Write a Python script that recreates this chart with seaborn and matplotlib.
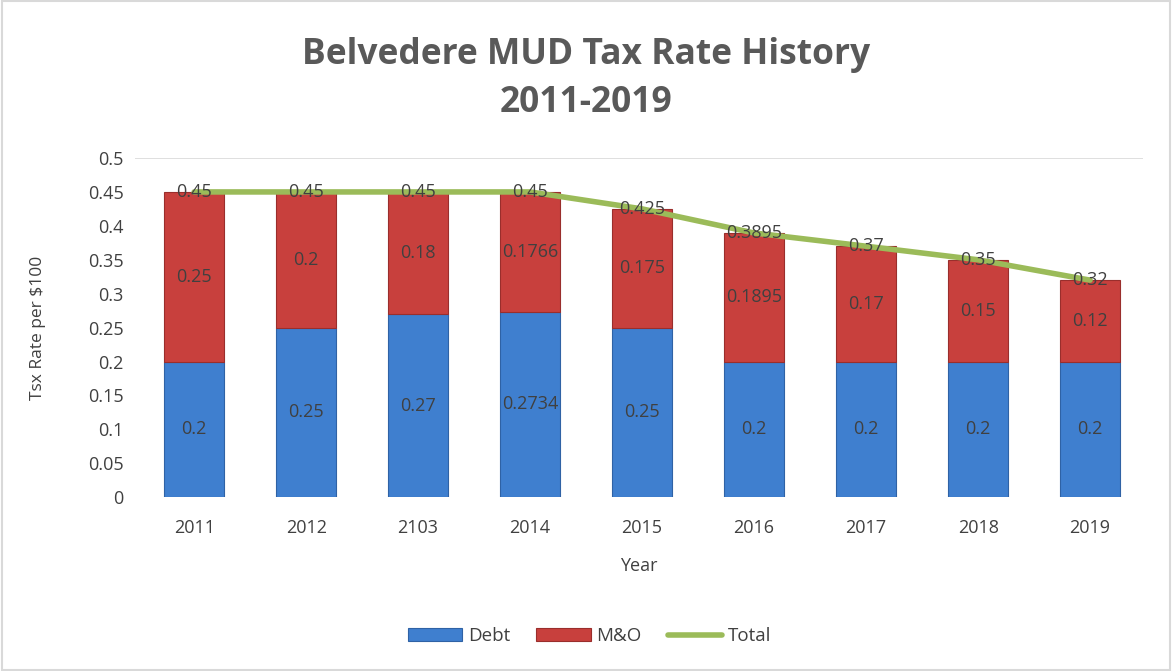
import numpy as np
import matplotlib
matplotlib.use('Agg')
import matplotlib.pyplot as plt
import seaborn as sns
from matplotlib.patches import Rectangle

years = ['2011', '2012', '2103', '2014', '2015', '2016', '2017', '2018', '2019']
debt = [0.2, 0.25, 0.27, 0.2734, 0.25, 0.2, 0.2, 0.2, 0.2]
mo = [0.25, 0.2, 0.18, 0.1766, 0.175, 0.1895, 0.17, 0.15, 0.12]
total = [0.45, 0.45, 0.45, 0.45, 0.425, 0.3895, 0.37, 0.35, 0.32]
debt_lbl = ['0.2', '0.25', '0.27', '0.2734', '0.25', '0.2', '0.2', '0.2', '0.2']
mo_lbl = ['0.25', '0.2', '0.18', '0.1766', '0.175', '0.1895', '0.17', '0.15', '0.12']
total_lbl = ['0.45', '0.45', '0.45', '0.45', '0.425', '0.3895', '0.37', '0.35', '0.32']

sns.set_theme(style='white')
plt.rcParams['font.family'] = ['Open Sans', 'DejaVu Sans']
txt = '#404040'
blue, red, green = '#3f7fcf', '#c8403d', '#9bbb59'

fig = plt.figure(figsize=(11.72, 6.71), dpi=100)
ax = fig.add_axes([0.115, 0.259, 0.86, 0.5055])

sns.barplot(x=years, y=debt, color=blue, width=0.54, ax=ax, saturation=1,
            edgecolor='#2f62a5', linewidth=0.8, label='Debt')
sns.barplot(x=years, y=mo, bottom=debt, color=red, width=0.54, ax=ax, saturation=1,
            edgecolor='#9a2e2c', linewidth=0.8, label='M&O')
sns.lineplot(x=years, y=total, color=green, linewidth=4, ax=ax, label='Total', sort=False)

for i in range(len(years)):
    ax.text(i, debt[i] / 2, debt_lbl[i], ha='center', va='center', fontsize=13, color=txt)
    ax.text(i, debt[i] + mo[i] / 2, mo_lbl[i], ha='center', va='center', fontsize=13, color=txt)
    ax.text(i, total[i], total_lbl[i], ha='center', va='center', fontsize=13, color=txt)

ax.set_ylim(0, 0.5)
ax.set_xlim(-0.53, 8.47)
ax.set_yticks(np.arange(0, 0.51, 0.05))
ax.set_yticklabels(['0', '0.05', '0.1', '0.15', '0.2', '0.25', '0.3', '0.35', '0.4', '0.45', '0.5'])
ax.axhline(0.5, color='#d9d9d9', linewidth=1.2, zorder=0)
for s in ax.spines.values():
    s.set_visible(False)
ax.tick_params(axis='both', length=0, labelsize=13, labelcolor=txt, pad=8)
ax.tick_params(axis='x', pad=16)
ax.set_xlabel('Year', fontsize=13, color=txt, labelpad=14)
ax.set_ylabel('Tsx Rate per $100', fontsize=12.5, color=txt, labelpad=30)

fig.suptitle('Belvedere MUD Tax Rate History\n2011-2019', fontsize=25.5, fontweight='bold',
             color='#595959', y=0.945, linespacing=1.45)

h, l = ax.get_legend_handles_labels()
order = [l.index('Debt'), l.index('M&O'), l.index('Total')]
ax.get_legend().remove() if ax.get_legend() else None
fig.legend([h[k] for k in order], [l[k] for k in order], loc='upper center',
           bbox_to_anchor=(0.503, 0.09), ncol=3, frameon=False, fontsize=13.5,
           labelcolor=txt, handlelength=2.9, columnspacing=1.4, handletextpad=0.3)

fig.patches.append(Rectangle((0.002, 0.002), 0.996, 0.996, transform=fig.transFigure,
                             fill=False, edgecolor='#d9d9d9', linewidth=1.5))

fig.savefig('out.png', dpi=100, facecolor='white')
